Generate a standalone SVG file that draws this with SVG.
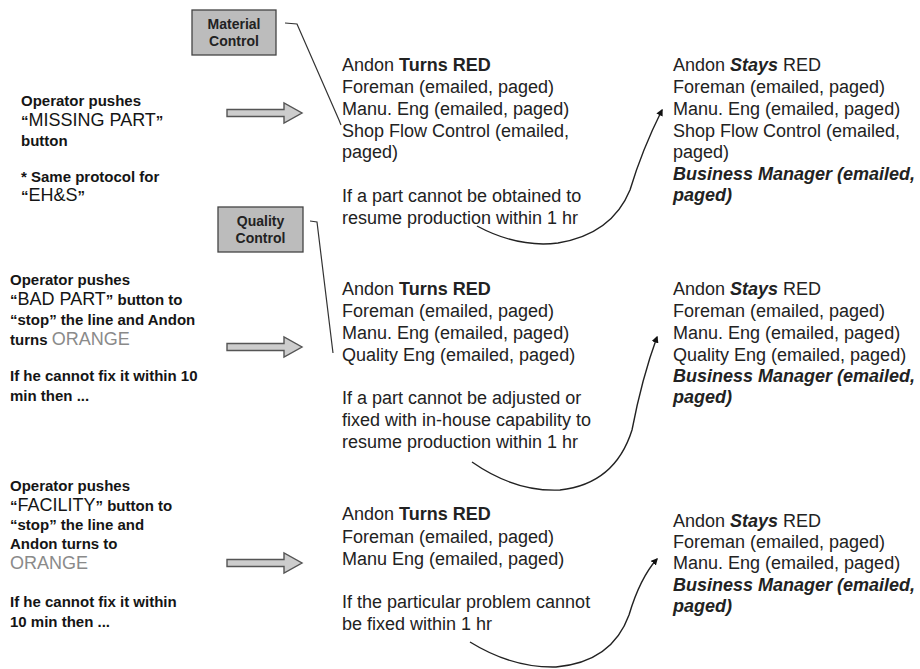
<svg xmlns="http://www.w3.org/2000/svg" width="920" height="669" viewBox="0 0 920 669">
<defs>
<style>
.t{font-family:"Liberation Sans",Arial,sans-serif;font-size:18px;fill:#222}
.b{font-weight:bold}
.bi{font-weight:bold;font-style:italic}
.lb{font-family:"Liberation Sans",Arial,sans-serif;font-size:15px;font-weight:bold;fill:#151515}
.reg{font-size:18px;font-weight:normal}
.orange{font-size:18px;font-weight:normal;fill:#8a8a8a}
.box{fill:#bcbcbc;stroke:#444;stroke-width:1.3}
.boxt{font-family:"Liberation Sans",Arial,sans-serif;font-size:14px;font-weight:bold;fill:#222;text-anchor:middle}
.lead{fill:none;stroke:#333;stroke-width:1.2}
.curve{fill:none;stroke:#222;stroke-width:1.4;marker-end:url(#ah)}
.blk{fill:#cdcdcd;stroke:#555;stroke-width:1.4}
</style>
<marker id="ah" viewBox="0 0 10 10" refX="8" refY="5" markerWidth="7" markerHeight="7" markerUnits="userSpaceOnUse" orient="auto">
<path d="M0,0 L10,5 L0,10 z" fill="#111"/>
</marker>
<path id="blockArrow" d="M227,-3.5 H284 V-10 L302,0 L284,10 V3.5 H227 Z"/>
</defs>
<rect width="920" height="669" fill="#fff"/>

<g id="material-control">
<rect class="box" x="192" y="10" width="84" height="45"/>
<text class="boxt" x="234" y="29">Material</text>
<text class="boxt" x="234" y="46">Control</text>
</g>

<g id="quality-control">
<rect class="box" x="218" y="207" width="85" height="45"/>
<text class="boxt" x="260.5" y="226">Quality</text>
<text class="boxt" x="260.5" y="243">Control</text>
</g>

<g id="op-missing-part">
<text class="lb" x="21" y="106">Operator pushes</text>
<text class="lb" x="21" y="126">“<tspan class="reg">MISSING PART</tspan>”</text>
<text class="lb" x="21" y="146">button</text>
<text class="lb" x="21" y="182">* Same protocol for</text>
<text class="lb" x="21" y="201">“<tspan class="reg">EH&amp;S</tspan>”</text>
</g>

<g id="op-bad-part">
<text class="lb" x="10" y="285">Operator pushes</text>
<text class="lb" x="10" y="305">“<tspan class="reg">BAD PART</tspan>” button to</text>
<text class="lb" x="10" y="325">“stop” the line and Andon</text>
<text class="lb" x="10" y="345">turns <tspan class="orange">ORANGE</tspan></text>
<text class="lb" x="10" y="381">If he cannot fix it within 10</text>
<text class="lb" x="10" y="401">min then ...</text>
</g>

<g id="op-facility">
<text class="lb" x="10" y="491">Operator pushes</text>
<text class="lb" x="10" y="511">“<tspan class="reg">FACILITY</tspan>” button to</text>
<text class="lb" x="10" y="530">“stop” the line and</text>
<text class="lb" x="10" y="549">Andon turns to</text>
<text class="lb" x="10" y="569"><tspan class="orange">ORANGE</tspan></text>
<text class="lb" x="10" y="607">If he cannot fix it within</text>
<text class="lb" x="10" y="627">10 min then ...</text>
</g>

<g id="turns-red-1">
<text class="t" x="342" y="71">Andon <tspan class="b">Turns RED</tspan></text>
<text class="t" x="342" y="93">Foreman (emailed, paged)</text>
<text class="t" x="342" y="115">Manu. Eng (emailed, paged)</text>
<text class="t" x="342" y="137">Shop Flow Control (emailed,</text>
<text class="t" x="342" y="158">paged)</text>
<text class="t" x="342" y="202">If a part cannot be obtained to</text>
<text class="t" x="342" y="224">resume production within 1 hr</text>
</g>

<g id="turns-red-2">
<text class="t" x="342" y="295">Andon <tspan class="b">Turns RED</tspan></text>
<text class="t" x="342" y="317">Foreman (emailed, paged)</text>
<text class="t" x="342" y="339">Manu. Eng (emailed, paged)</text>
<text class="t" x="342" y="361">Quality Eng (emailed, paged)</text>
<text class="t" x="342" y="404">If a part cannot be adjusted or</text>
<text class="t" x="342" y="426">fixed with in-house capability to</text>
<text class="t" x="342" y="448">resume production within 1 hr</text>
</g>

<g id="turns-red-3">
<text class="t" x="342" y="520">Andon <tspan class="b">Turns RED</tspan></text>
<text class="t" x="342" y="543">Foreman (emailed, paged)</text>
<text class="t" x="342" y="565">Manu Eng (emailed, paged)</text>
<text class="t" x="342" y="608">If the particular problem cannot</text>
<text class="t" x="342" y="630">be fixed within 1 hr</text>
</g>

<g id="stays-red-1">
<text class="t" x="673" y="71">Andon <tspan class="bi">Stays</tspan> RED</text>
<text class="t" x="673" y="93">Foreman (emailed, paged)</text>
<text class="t" x="673" y="115">Manu. Eng (emailed, paged)</text>
<text class="t" x="673" y="137">Shop Flow Control (emailed,</text>
<text class="t" x="673" y="158">paged)</text>
<text class="t bi" x="673" y="180">Business Manager (emailed,</text>
<text class="t bi" x="673" y="201">paged)</text>
</g>

<g id="stays-red-2">
<text class="t" x="673" y="295">Andon <tspan class="bi">Stays</tspan> RED</text>
<text class="t" x="673" y="317">Foreman (emailed, paged)</text>
<text class="t" x="673" y="339">Manu. Eng (emailed, paged)</text>
<text class="t" x="673" y="361">Quality Eng (emailed, paged)</text>
<text class="t bi" x="673" y="382">Business Manager (emailed,</text>
<text class="t bi" x="673" y="403">paged)</text>
</g>

<g id="stays-red-3">
<text class="t" x="673" y="527">Andon <tspan class="bi">Stays</tspan> RED</text>
<text class="t" x="673" y="548">Foreman (emailed, paged)</text>
<text class="t" x="673" y="569">Manu. Eng (emailed, paged)</text>
<text class="t bi" x="673" y="591">Business Manager (emailed,</text>
<text class="t bi" x="673" y="612">paged)</text>
</g>

<g id="connectors">
<use href="#blockArrow" class="blk" y="113"/>
<use href="#blockArrow" class="blk" y="347"/>
<use href="#blockArrow" class="blk" y="563"/>
<path class="lead" d="M285,23 L297,24 L339,120 L341,125"/>
<path class="lead" d="M310,221 L317,222 L333,353"/>
<path class="curve" d="M477,226 Q518,248 558,243 Q612,234 630,190 Q642,150 662,110"/>
<path class="curve" d="M472,462 Q515,492 560,490 Q615,484 632,430 Q642,378 657,337"/>
<path class="curve" d="M470,642 Q512,668 556,667 Q612,662 629,615 Q640,578 657,559"/>
</g>
</svg>
